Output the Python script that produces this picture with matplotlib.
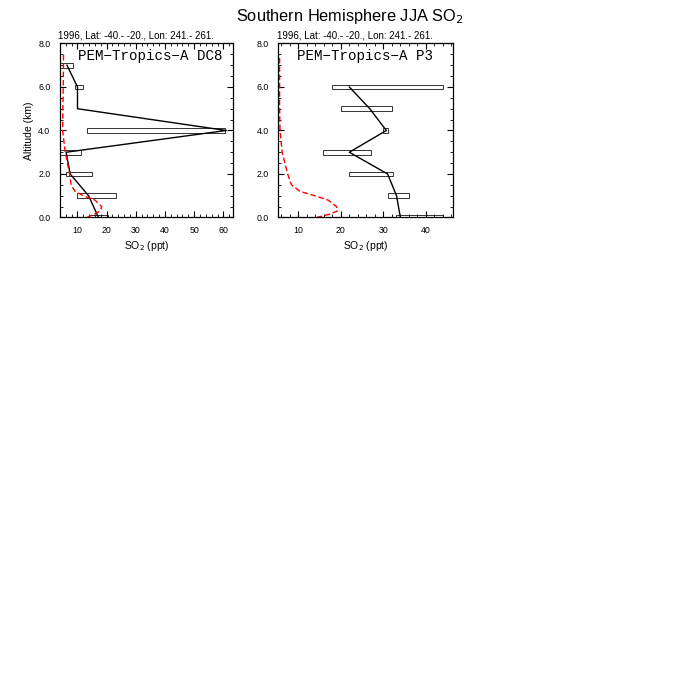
import matplotlib
matplotlib.use('Agg')
import matplotlib.pyplot as plt
from matplotlib.patches import Rectangle
from matplotlib.ticker import MultipleLocator, FormatStrFormatter

plt.rcParams['font.family'] = ['Liberation Sans', 'DejaVu Sans']

# DC8 panel: observed median profile and boxes (altitude, low, high)
dc8_alt = [0, 1, 2, 3, 4, 5, 6, 7]
dc8_so2 = [17.2, 13.8, 7.5, 6.1, 61.0, 10.0, 10.0, 6.4]
dc8_box_alt = [0, 1, 2, 3, 4, 6, 7]
dc8_box_lo = [13.8, 10.0, 6.1, 4.1, 13.2, 9.0, 4.1]
dc8_box_hi = [20.3, 23.1, 14.9, 11.2, 60.6, 12.0, 8.6]
# model profile (red dashed)
dc8_mod_alt = [0.0, 0.1, 0.3, 0.5, 0.8, 1.0, 1.2, 1.5, 2.0, 3.0, 4.0, 5.0, 6.0, 7.0, 7.5]
dc8_mod_so2 = [13.2, 14.9, 17.8, 18.3, 16.0, 12.0, 9.2, 7.8, 7.3, 5.8, 4.9, 5.0, 5.1, 5.2, 5.2]

# P3 panel
p3_alt = [0, 1, 2, 3, 4, 5, 6]
p3_so2 = [34.0, 33.1, 31.0, 22.0, 30.7, 26.8, 22.0]
p3_box_alt = [0, 1, 2, 3, 4, 5, 6]
p3_box_lo = [33.0, 31.0, 22.0, 15.9, 30.0, 20.0, 18.0]
p3_box_hi = [44.0, 36.0, 32.2, 27.0, 31.1, 32.1, 44.0]
p3_mod_alt = [0.0, 0.15, 0.3, 0.5, 0.8, 1.0, 1.2, 1.5, 2.0, 3.0, 4.0, 5.0, 6.0, 7.0, 7.5]
p3_mod_so2 = [14.3, 17.4, 19.2, 19.0, 17.0, 13.9, 10.4, 8.4, 7.5, 6.2, 5.7, 5.6, 5.6, 5.6, 5.6]

subtitle = '1996, Lat: -40.- -20., Lon: 241.- 261.'

fig = plt.figure(figsize=(7, 7), dpi=100)


def panel(rect, xlim, label, alt, so2, balt, blo, bhi, malt, mso2, ylabel):
    ax = fig.add_axes(rect)
    for a, lo, hi in zip(balt, blo, bhi):
        ax.add_patch(Rectangle((lo, a - 0.11), hi - lo, 0.22, facecolor='none',
                               edgecolor='#333333', linewidth=0.7))
    ax.plot(so2, alt, color='black', linewidth=1.0)
    ax.plot(mso2, malt, color='red', linewidth=1.0, linestyle=(0, (4, 2)))
    ax.set_xlim(*xlim)
    ax.set_ylim(0, 8)
    ax.xaxis.set_major_locator(MultipleLocator(10))
    ax.xaxis.set_minor_locator(MultipleLocator(2))
    ax.yaxis.set_major_locator(MultipleLocator(2))
    ax.yaxis.set_minor_locator(MultipleLocator(0.5))
    ax.yaxis.set_major_formatter(FormatStrFormatter('%.1f'))
    ax.tick_params(which='both', direction='in', top=True, right=True, labelsize=6.3)
    ax.tick_params(which='major', length=4, width=0.8)
    ax.tick_params(axis='x', which='major', pad=6)
    ax.tick_params(axis='y', which='major', pad=7)
    ax.tick_params(which='minor', length=2, width=0.6)
    for s in ax.spines.values():
        s.set_linewidth(0.9)
    ax.set_xlabel('SO$_2$ (ppt)', fontsize=7.5, labelpad=3)
    if ylabel:
        ax.set_ylabel('Altitude (km)', fontsize=7.5, labelpad=3)
    ax.text(-0.01, 1.015, subtitle, transform=ax.transAxes, fontsize=7.0,
            ha='left', va='bottom')
    ax.text(0.105, 0.93, label, transform=ax.transAxes, fontsize=10.2,
            family=['Liberation Mono', 'DejaVu Sans Mono'], ha='left', va='center')
    return ax


panel([0.0857, 0.6893, 0.2471, 0.2486], (4.0, 63.3), 'PEM\u2212Tropics\u2212A DC8',
      dc8_alt, dc8_so2, dc8_box_alt, dc8_box_lo, dc8_box_hi,
      dc8_mod_alt, dc8_mod_so2, True)
panel([0.3976, 0.6893, 0.2491, 0.2486], (5.3, 46.3), 'PEM\u2212Tropics\u2212A P3',
      p3_alt, p3_so2, p3_box_alt, p3_box_lo, p3_box_hi,
      p3_mod_alt, p3_mod_so2, False)

fig.text(0.5, 0.977, 'Southern Hemisphere JJA SO$_2$', fontsize=11.8, ha='center', va='center')

fig.savefig('out.png', dpi=100)
